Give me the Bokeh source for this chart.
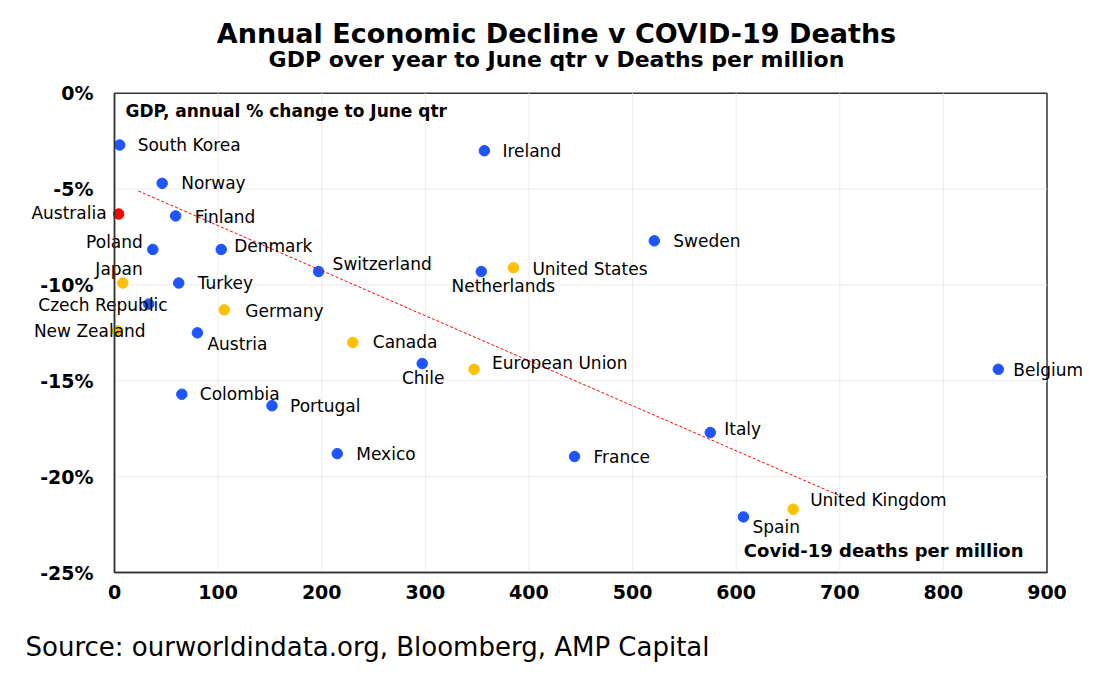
from bokeh.plotting import figure
from bokeh.models import ColumnDataSource, Range1d, FixedTicker, Label, BoxAnnotation
from bokeh.core.properties import value
from bokeh.embed import file_html
from bokeh.resources import INLINE

# ---------------- data ----------------
countries = ["South Korea", "Ireland", "Norway", "Australia", "Finland", "Poland",
             "Denmark", "Switzerland", "Sweden", "Netherlands", "United States",
             "Japan", "Turkey", "Czech Republic", "Germany", "New Zealand",
             "Austria", "Canada", "Chile", "European Union", "Belgium",
             "Colombia", "Portugal", "Mexico", "France", "Italy",
             "United Kingdom", "Spain"]
deaths_per_million = [5, 357, 46, 4, 59, 37, 103, 197, 521, 354, 385, 8, 62, 33,
                      106, 3, 80, 230, 297, 347, 853, 65, 152, 215, 444, 575,
                      655, 607]
gdp_change = [-2.7, -3.0, -4.7, -6.3, -6.4, -8.15, -8.15, -9.3, -7.7, -9.3, -9.1,
              -9.9, -9.9, -11.0, -11.3, -12.4, -12.5, -13.0, -14.1, -14.4, -14.4,
              -15.7, -16.3, -18.8, -18.95, -17.7, -21.7, -22.1]
group = ["other", "other", "other", "australia", "other", "other", "other", "other",
         "other", "other", "major", "major", "other", "other", "major", "major",
         "other", "major", "other", "major", "other", "other", "other", "other",
         "other", "other", "major", "other"]

trend_x = [23, 700]
trend_y = [-5.1, -21.0]

x_ticks = [0, 100, 200, 300, 400, 500, 600, 700, 800, 900]
y_ticks = [-25, -20, -15, -10, -5, 0]
y_tick_labels = ["-25%", "-20%", "-15%", "-10%", "-5%", "0%"]
X_MIN, X_MAX = 0, 900
Y_MIN, Y_MAX = -25, 0

title_text = "Annual Economic Decline v COVID-19 Deaths"
subtitle_text = "GDP over year to June qtr v Deaths per million"
y_title = "GDP, annual % change to June qtr"
x_title = "Covid-19 deaths per million"
source_text = "Source: ourworldindata.org, Bloomberg, AMP Capital"

# ---------------- styling / layout ----------------
W, H = 1084, 675
BOX_L, BOX_R, BOX_T, BOX_B = 114, 1046.5, 92.7, 572      # plot box in pixels
sx = (BOX_R - BOX_L) / (X_MAX - X_MIN)
sy = (BOX_B - BOX_T) / (Y_MAX - Y_MIN)
x_range = Range1d(X_MIN - BOX_L / sx, X_MAX + (W - BOX_R) / sx)
y_range = Range1d(Y_MIN - (H - BOX_B) / sy, Y_MAX + BOX_T / sy)

palette = {"other": "#1F55FF", "major": "#FFC000", "australia": "#FF0000"}
# label placement (pixel offsets from the point, alignment)
label_dx = [18, 18, 19, -12, 19, -10, 13, 14, 19, 22, 19, 20, 19, 19, 21, 28,
            10, 20, 1, 18, 15, 18, 18, 19, 19, 14, 17, 9]
label_dy = [0, 0, 0, -1, 1, -7, -3, -7, 0, 15, 1, -14, 0, 1, 1, 0,
            11, 0, 14, -6, 1, 0, 0, 0, 0, -4, -9, 10]
label_align = ["left", "left", "left", "right", "left", "right", "left", "left",
               "left", "center", "left", "right", "left", "right", "left", "right",
               "left", "left", "center", "left", "left", "left", "left", "left",
               "left", "left", "left", "left"]

FONT = "DejaVu Sans"
FRAME_COLOR = "#333333"
LABEL_SHIFT = 9   # px correction between requested and rendered baseline

src = ColumnDataSource(dict(
    x=deaths_per_million, y=gdp_change, name=countries,
    color=[palette[g] for g in group],
    dx=label_dx, dy=label_dy, align=label_align,
))

p = figure(width=W, height=H, output_backend="svg", toolbar_location=None,
           x_range=x_range, y_range=y_range,
           min_border_left=0, min_border_right=0,
           min_border_top=0, min_border_bottom=0)
p.background_fill_color = "white"
p.border_fill_color = "white"
p.outline_line_color = None
p.xgrid.visible = False
p.ygrid.visible = False

# light grid inside the plot box (interior lines only)
gx = x_ticks[1:-1]
gy = y_ticks[1:-1]
p.segment(x0=gx, y0=[Y_MIN] * len(gx), x1=gx, y1=[Y_MAX] * len(gx),
          line_color="#ECECEC", line_width=1)
p.segment(x0=[X_MIN] * len(gy), y0=gy, x1=[X_MAX] * len(gy), y1=gy,
          line_color="#ECECEC", line_width=1)

# plot box
p.add_layout(BoxAnnotation(left=X_MIN, right=X_MAX, bottom=Y_MIN, top=Y_MAX,
                           fill_alpha=0, line_color=FRAME_COLOR, line_alpha=1.0,
                           line_width=1.5, level="underlay"))

for ax in (p.xaxis, p.yaxis):
    ax.axis_line_color = FRAME_COLOR
    ax.axis_line_width = 1.5
    ax.major_tick_line_color = None
    ax.minor_tick_line_color = None
    ax.major_tick_in = 0
    ax.major_tick_out = 0
    ax.major_label_text_font = FONT
    ax.major_label_text_font_style = "bold"
    ax.major_label_text_font_size = "19px"
    ax.major_label_text_color = "black"

p.xaxis.fixed_location = Y_MIN
p.yaxis.fixed_location = X_MIN
p.xaxis.bounds = (X_MIN, X_MAX)
p.yaxis.bounds = (Y_MIN, Y_MAX)
p.xaxis.ticker = FixedTicker(ticks=x_ticks)
p.yaxis.ticker = FixedTicker(ticks=y_ticks)
p.yaxis.major_label_overrides = {t: l for t, l in zip(y_ticks, y_tick_labels)}
p.xaxis.major_label_standoff = 12
p.yaxis.major_label_standoff = 21

p.scatter("x", "y", source=src, size=10.5, fill_color="color", line_color="color")
p.line(trend_x, trend_y, line_color="#FF0000", line_width=1, line_dash="3 2")

p.text("x", "y", text="name", source=src, x_offset="dx", y_offset="dy",
       text_align="align", text_baseline="middle",
       text_font=value(FONT), text_font_size="17px", text_color="black")


def add_label(text, x_px, baseline_px, size, bold=True, align="left"):
    p.add_layout(Label(x=x_px, y=H - baseline_px + LABEL_SHIFT,
                       x_units="screen", y_units="screen",
                       text=text, text_font=FONT,
                       text_font_style="bold" if bold else "normal",
                       text_font_size=size, text_color="black",
                       text_align=align, text_baseline="alphabetic"))


add_label(title_text, 556, 42, "27px", align="center")
add_label(subtitle_text, 556, 68, "22px", align="center")
add_label(y_title, 125, 119, "17px")
add_label(x_title, 1023, 559, "18px", align="right")
add_label(source_text, 25, 655, "26px", bold=False)

open("out.html", "w").write(file_html(p, INLINE))
